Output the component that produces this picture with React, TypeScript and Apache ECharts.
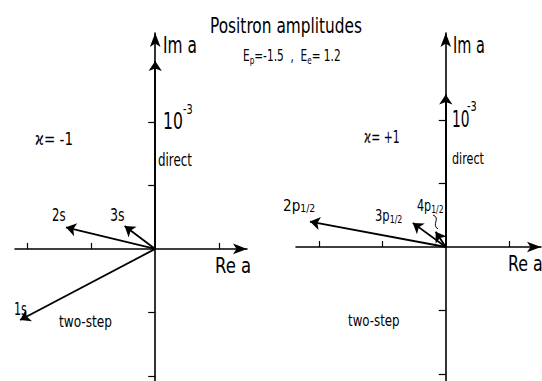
import React, { useEffect, useRef } from "react";
import * as echarts from "echarts";

// Left panel (kappa = -1), units of 10^-3
const leftNames = ["direct", "1s", "2s", "3s"];
const leftRe = [0, -1.06, -0.7, -0.24];
const leftIm = [1.48, -0.56, 0.17, 0.18];

// Right panel (kappa = +1)
const rightNames = ["direct", "2p1/2", "3p1/2", "4p1/2"];
const rightRe = [0, -1.07, -0.26, -0.08];
const rightIm = [1.2, 0.2, 0.19, 0.12];

const tickValuesX = [-1, -0.5, 0.5];
const tickValuesY = [-1, -0.5, 0.5, 1];

const FONT = '"DejaVu Sans", sans-serif';

export default function App() {
  const ref = useRef<HTMLDivElement>(null);
  useEffect(() => {
    if (!ref.current) return;
    const chart = echarts.init(ref.current, undefined, { renderer: "svg" });
    const axisLine = {
      onZero: true,
      symbol: ["none", "arrow"],
      symbolSize: [8, 14],
      lineStyle: { color: "#000", width: 1.6 },
    };
    const mkX = (gi: number, min: number, max: number) => ({
      type: "value",
      gridIndex: gi,
      min,
      max,
      axisLine,
      axisTick: { show: true, inside: true, length: 6, customValues: tickValuesX, lineStyle: { color: "#000", width: 1.2 } },
      axisLabel: { show: false },
      splitLine: { show: false },
    });
    const mkY = (gi: number, min: number, max: number) => ({
      type: "value",
      gridIndex: gi,
      min,
      max,
      axisLine,
      axisTick: { show: true, inside: false, length: 7, customValues: tickValuesY, lineStyle: { color: "#000", width: 1.2 } },
      axisLabel: { show: false },
      splitLine: { show: false },
    });
    const mkLines = (gi: number, names: string[], re: number[], im: number[]) => ({
      type: "lines",
      coordinateSystem: "cartesian2d",
      xAxisIndex: gi,
      yAxisIndex: gi,
      symbol: ["none", "arrow"],
      symbolSize: 10,
      lineStyle: { color: "#000", width: 1.8, opacity: 1 },
      data: names.map((n, i) => ({ name: n, coords: [[0, 0], [re[i], im[i]]] })),
    });
    const t = (text: string, x: number, y: number, size: number, sx: number, extra: any = {}) => ({
      type: "text",
      x,
      y,
      scaleX: sx,
      style: { text, font: `${size}px ${FONT}`, fill: "#000", verticalAlign: "top", ...extra },
    });
    const rt = (text: string, x: number, y: number, sx: number, main: number, sub: number, drop: number) => ({
      type: "text",
      x,
      y,
      scaleX: sx,
      style: {
        text,
        verticalAlign: "top",
        rich: {
          n: { font: `${main}px ${FONT}`, fill: "#000" },
          sub: { font: `${sub}px ${FONT}`, fill: "#000", padding: [drop, 0, 0, 0] },
        },
      },
    });
    chart.setOption({
      animation: false,
      grid: [
        { left: 15, top: 33, width: 232, height: 348 },
        { left: 296, top: 33, width: 245, height: 348 },
      ],
      xAxis: [mkX(0, -1.1, 0.72), mkX(1, -1.18, 0.75)],
      yAxis: [mkY(0, -1.04, 1.7), mkY(1, -1.055, 1.685)],
      series: [mkLines(0, leftNames, leftRe, leftIm), mkLines(1, rightNames, rightRe, rightIm)],
      graphic: [
        t("Positron amplitudes", 286, 15, 20.5, 0.75, { align: "center" }),
        rt("{n|E}{sub|p}{n|=-1.5  ,  E}{sub|e}{n|= 1.2}", 243, 46, 0.66, 16, 11, 8),
        // left panel texts
        t("Im a", 163, 34, 23, 0.67),
        t("10", 163, 110, 23, 0.68),
        t("-3", 183, 102, 14, 0.7),
        t("direct", 158, 151, 17, 0.7),
        t("ϰ= -1", 35, 130, 18, 0.75),
        t("2s", 52, 206, 18, 0.65),
        t("3s", 110, 206, 18, 0.7),
        t("1s", 14, 300, 18, 0.62),
        t("two-step", 59, 313, 16, 0.76),
        t("Re a", 215, 255, 22, 0.75),
        // right panel texts
        t("Im a", 453, 34, 23, 0.63),
        t("10", 452, 107, 23, 0.6),
        t("-3", 467, 99, 14, 0.7),
        t("direct", 452, 150, 16, 0.7),
        t("ϰ= +1", 364, 127, 18, 0.6),
        rt("{n|2p}{sub|1/2}", 283, 196, 0.85, 16, 11, 7),
        rt("{n|3p}{sub|1/2}", 375, 206, 0.72, 16, 11, 7),
        rt("{n|4p}{sub|1/2}", 417, 196, 0.7, 16, 11, 7),
        {
          type: "bezierCurve",
          shape: { x1: 433, y1: 215, x2: 438, y2: 229, cpx1: 441, cpy1: 218, cpx2: 431, cpy2: 225 },
          style: { stroke: "#000", lineWidth: 1, fill: "none" },
        },
        t("two-step", 348, 312, 16, 0.74),
        t("Re a", 508, 253, 22, 0.72),
      ],
    });
    return () => chart.dispose();
  }, []);
  return (
    <div
      ref={ref}
      style={{ position: "absolute", left: 0, top: 0, width: 542, height: 381, background: "#fff" }}
    />
  );
}
